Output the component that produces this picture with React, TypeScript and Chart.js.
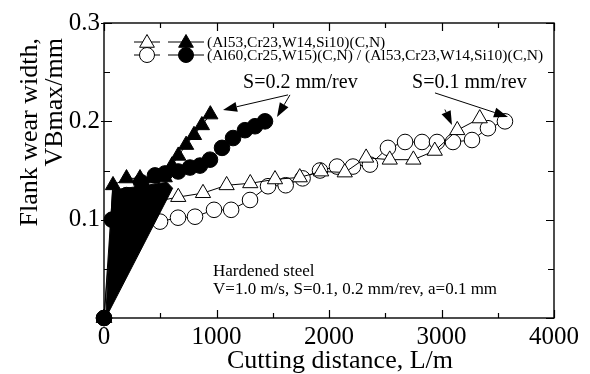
import React, { useEffect, useRef } from 'react';
import { Chart, registerables } from 'chart.js';

Chart.register(...registerables);

const FONT = "'Liberation Serif', 'Times New Roman', serif";

// ---- data ----
// S=0.1 mm/rev, (Al53,Cr23,W14,Si10)(C,N)  - open triangles
const openTriX = [0, 440, 660, 880, 1090, 1300, 1520, 1740, 1930, 2140, 2330, 2540, 2750, 2940, 3140, 3340];
const openTriY = [0, 0.118, 0.123, 0.127, 0.135, 0.137, 0.141, 0.143, 0.149, 0.148, 0.163, 0.161, 0.161, 0.170, 0.191, 0.203];

// S=0.1 mm/rev, (Al60,Cr25,W15)(C,N)/(Al53,...) - open circles
const openCircX = [0, 300, 498, 658, 809, 978, 1130, 1298, 1458, 1615, 1765, 1920, 2071, 2213, 2364, 2524, 2676, 2827, 2960, 3102, 3271, 3413, 3564];
const openCircY = [0, 0.092, 0.098, 0.102, 0.103, 0.110, 0.110, 0.120, 0.134, 0.135, 0.142, 0.150, 0.154, 0.154, 0.156, 0.173, 0.179, 0.179, 0.179, 0.179, 0.181, 0.193, 0.200];

// S=0.2 mm/rev, (Al53,Cr23,W14,Si10)(C,N) - filled triangles
const fillTriX = [0, 80, 200, 320, 430, 540, 604, 660, 730, 800, 870, 945];
const fillTriY = [0, 0.135, 0.142, 0.142, 0.142, 0.143, 0.155, 0.165, 0.176, 0.186, 0.196, 0.207];

// S=0.2 mm/rev, (Al60,Cr25,W15)(C,N)/(Al53,...) - filled circles
const fillCircX = [0, 70, 200, 330, 453, 542, 660, 764, 853, 942, 1049, 1147, 1253, 1342, 1431];
const fillCircY = [0, 0.100, 0.125, 0.138, 0.145, 0.147, 0.149, 0.153, 0.155, 0.161, 0.173, 0.183, 0.191, 0.195, 0.200];

// dense early region drawn solid in the picture
const wedgeX = [15, 75, 560, 610, 15];
const wedgeY = [0, 0.13, 0.138, 0.132, 0];

const xTickLabels = ['0', '1000', '2000', '3000', '4000'];
const yTickLabels = ['0.1', '0.2', '0.3'];
const xTitle = 'Cutting distance, L/m';
const yTitleLines = ['Flank wear width,', 'VBmax/mm'];
const legendLabels = ['(Al53,Cr23,W14,Si10)(C,N)', '(Al60,Cr25,W15)(C,N) / (Al53,Cr23,W14,Si10)(C,N)'];
const noteLines = ['Hardened steel', 'V=1.0 m/s, S=0.1, 0.2 mm/rev, a=0.1 mm'];
const labelS02 = 'S=0.2 mm/rev';
const labelS01 = 'S=0.1 mm/rev';

// annotation anchors in data units
const labelS02Pos = [1236, 0.234];
const labelS01Pos = [2738, 0.234];
const notePos = [969, 0.0427];
const arrowsData = [
  [[1636, 0.2269], [1058, 0.2116]],
  [[1653, 0.2269], [1538, 0.2045]],
  [[2942, 0.2289], [3591, 0.2045]],
  [[3030, 0.2120], [3093, 0.1963]],
];

function pts(xs: number[], ys: number[]) {
  return xs.map((x, i) => ({ x, y: ys[i] }));
}

function drawTri(ctx: CanvasRenderingContext2D, x: number, y: number, r: number, fill: string) {
  ctx.beginPath();
  for (let k = 0; k < 3; k++) {
    const a = (k * 2 * Math.PI) / 3;
    const px = x + Math.sin(a) * r;
    const py = y - Math.cos(a) * r;
    if (k === 0) ctx.moveTo(px, py);
    else ctx.lineTo(px, py);
  }
  ctx.closePath();
  ctx.fillStyle = fill;
  ctx.fill();
  ctx.stroke();
}
function drawCirc(ctx: CanvasRenderingContext2D, x: number, y: number, r: number, fill: string) {
  ctx.beginPath();
  ctx.arc(x, y, r, 0, Math.PI * 2);
  ctx.fillStyle = fill;
  ctx.fill();
  ctx.stroke();
}

const boxPlugin = {
  id: 'boxPlugin',
  afterDatasetsDraw(chart: any) {
    const { ctx, chartArea: a, scales } = chart;
    const xs = scales.x;
    const ys = scales.y;
    ctx.save();
    ctx.strokeStyle = '#000';
    ctx.lineWidth = 1.2;
    ctx.beginPath();
    xs.ticks.forEach((t: any) => {
      const px = Math.round(xs.getPixelForValue(t.value)) + 0.5;
      const major = Math.round(t.value) % 1000 === 0;
      const len = major ? 8 : 5;
      ctx.moveTo(px, a.bottom);
      ctx.lineTo(px, a.bottom - len);
      ctx.moveTo(px, a.top);
      ctx.lineTo(px, a.top + len);
    });
    ys.ticks.forEach((t: any) => {
      const py = Math.round(ys.getPixelForValue(t.value)) + 0.5;
      const major = Math.round(t.value * 100) % 10 === 0;
      const len = major ? 8 : 6;
      ctx.moveTo(a.left - (major ? 3 : 0), py);
      ctx.lineTo(a.left + len, py);
      ctx.moveTo(a.right, py);
      ctx.lineTo(a.right - len, py);
    });
    ctx.stroke();
    ctx.lineWidth = 1.4;
    ctx.strokeRect(a.left, a.top, a.right - a.left, a.bottom - a.top);
    ctx.restore();
  },
  afterDraw(chart: any) {
    const { ctx, chartArea: a, scales } = chart;
    const xs = scales.x;
    const ys = scales.y;
    const P = (d: number[]) => [xs.getPixelForValue(d[0]), ys.getPixelForValue(d[1])];
    ctx.save();
    ctx.fillStyle = '#000';
    ctx.strokeStyle = '#000';
    // axis titles
    ctx.font = `26px ${FONT}`;
    ctx.textAlign = 'center';
    ctx.textBaseline = 'alphabetic';
    ctx.fillText(xTitle, (a.left + a.right) / 2 + 11, 368);
    ctx.save();
    ctx.font = `26px ${FONT}`;
    ctx.textAlign = 'right';
    [37, 62].forEach((bx, i) => {
      ctx.save();
      ctx.translate(bx, a.top + 15);
      ctx.rotate(-Math.PI / 2);
      ctx.fillText(yTitleLines[i], 0, 0);
      ctx.restore();
    });
    ctx.restore();

    // legend
    ctx.lineWidth = 1;
    const rows = [a.top + 19, a.top + 32];
    rows.forEach((ry, i) => {
      ctx.beginPath();
      ctx.moveTo(a.left + 30, ry);
      ctx.lineTo(a.left + 56, ry);
      ctx.moveTo(a.left + 64, ry);
      ctx.lineTo(a.left + 100, ry);
      ctx.stroke();
      if (i === 0) {
        drawTri(ctx, a.left + 43, ry + 1, 8.5, '#fff');
        drawTri(ctx, a.left + 82, ry + 1, 8.5, '#000');
      } else {
        drawCirc(ctx, a.left + 43, ry, 7.5, '#fff');
        drawCirc(ctx, a.left + 82, ry, 7.5, '#000');
      }
      ctx.fillStyle = '#000';
      ctx.font = `15.5px ${FONT}`;
      ctx.textAlign = 'left';
      ctx.textBaseline = 'middle';
      ctx.fillText(legendLabels[i], a.left + 103, ry + 1);
    });

    // S labels
    ctx.font = `20px ${FONT}`;
    ctx.textAlign = 'left';
    ctx.textBaseline = 'alphabetic';
    let p = P(labelS02Pos);
    ctx.fillText(labelS02, p[0], p[1]);
    p = P(labelS01Pos);
    ctx.fillText(labelS01, p[0], p[1]);

    // arrows
    ctx.lineWidth = 1;
    arrowsData.forEach(([f, t]) => {
      const a0 = P(f);
      const a1 = P(t);
      const ang = Math.atan2(a1[1] - a0[1], a1[0] - a0[0]);
      const L = 14;
      const W = 5;
      const bx = a1[0] - Math.cos(ang) * L;
      const by = a1[1] - Math.sin(ang) * L;
      ctx.beginPath();
      ctx.moveTo(a0[0], a0[1]);
      ctx.lineTo(bx, by);
      ctx.stroke();
      ctx.beginPath();
      ctx.moveTo(a1[0], a1[1]);
      ctx.lineTo(bx - Math.sin(ang) * W, by + Math.cos(ang) * W);
      ctx.lineTo(bx + Math.sin(ang) * W, by - Math.cos(ang) * W);
      ctx.closePath();
      ctx.fill();
    });

    // note
    ctx.font = `17px ${FONT}`;
    p = P(notePos);
    ctx.fillText(noteLines[0], p[0], p[1]);
    ctx.fillText(noteLines[1], p[0], p[1] + 18);
    ctx.restore();
  },
};

export default function App() {
  const ref = useRef<HTMLCanvasElement>(null);
  useEffect(() => {
    document.body.style.margin = '0';
    const line = { showLine: true, borderColor: '#000', borderWidth: 1, pointBorderColor: '#000', pointBorderWidth: 1, clip: false as any };
    const chart = new Chart(ref.current!, {
      type: 'scatter',
      data: {
        datasets: [
          { ...line, label: 'oc', data: pts(openCircX, openCircY), pointStyle: 'circle', pointRadius: 7.8, pointBackgroundColor: '#fff', order: 4 },
          { ...line, label: 'ot', data: pts(openTriX, openTriY), pointStyle: 'triangle', pointRadius: 8.8, pointBackgroundColor: '#fff', order: 3 },
          { label: 'wedge', data: pts(wedgeX, wedgeY), showLine: true, borderColor: '#000', borderWidth: 1, backgroundColor: '#000', fill: 'shape', pointRadius: 0, order: 2 } as any,
          { ...line, label: 'fc', data: pts(fillCircX, fillCircY), pointStyle: 'circle', pointRadius: 7.8, pointBackgroundColor: '#000', order: 1 },
          { ...line, label: 'ft', data: pts(fillTriX, fillTriY), pointStyle: 'triangle', pointRadius: 8.8, pointBackgroundColor: '#000', order: 0 },
        ],
      },
      options: {
        animation: false,
        responsive: false,
        maintainAspectRatio: false,
        layout: { padding: { left: 0, right: 36, top: 23, bottom: 0 } },
        plugins: { legend: { display: false }, tooltip: { enabled: false } },
        scales: {
          x: {
            type: 'linear',
            min: 0,
            max: 4000,
            grid: { display: false, drawTicks: false },
            border: { display: false },
            ticks: {
              stepSize: 500,
              autoSkip: false,
              maxRotation: 0,
              padding: 4,
              color: '#000',
              font: { family: FONT, size: 25 },
              callback: (v: any) => {
                const s = String(Math.round(v));
                return xTickLabels.includes(s) ? s : '';
              },
            },
            afterFit: (s: any) => { s.height = 56; },
          },
          y: {
            type: 'linear',
            min: 0,
            max: 0.3,
            grid: { display: false, drawTicks: false },
            border: { display: false },
            ticks: {
              stepSize: 0.05,
              autoSkip: false,
              padding: 4,
              color: '#000',
              font: { family: FONT, size: 25 },
              callback: (v: any) => {
                const s = (Math.round(v * 100) / 100).toString();
                return yTickLabels.includes(s) ? s : '';
              },
            },
            afterFit: (s: any) => { s.width = 104; },
          },
        },
      },
      plugins: [boxPlugin],
    });
    return () => chart.destroy();
  }, []);
  return (
    <div style={{ width: 590, height: 374 }}>
      <canvas ref={ref} width={590} height={374} style={{ display: 'block' }} />
    </div>
  );
}
